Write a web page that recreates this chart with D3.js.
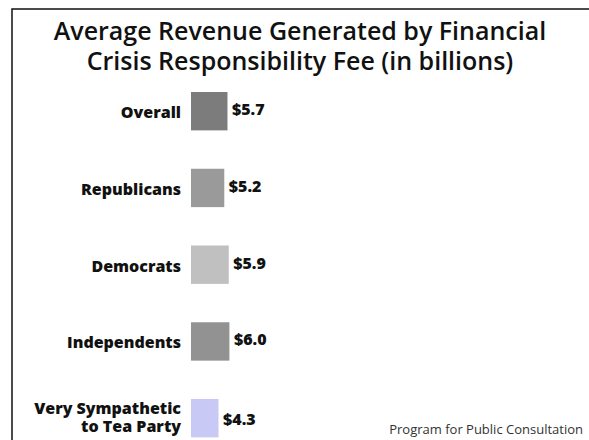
<!DOCTYPE html>
<html><head><meta charset="utf-8">
<script src="https://cdn.jsdelivr.net/npm/d3@7"></script>
<style>body{margin:0;background:#fff}svg{display:block}</style>
</head><body>
<script>
const categories = ["Overall", "Republicans", "Democrats", "Independents", "Very Sympathetic\nto Tea Party"];
const values = [5.7, 5.2, 5.9, 6.0, 4.3];
const valueLabels = ["$5.7", "$5.2", "$5.9", "$6.0", "$4.3"];
const colors = ["#7c7c7c", "#9a9a9a", "#c0c0c0", "#929292", "#c9c9f6"];
const title = ["Average Revenue Generated by Financial", "Crisis Responsibility Fee (in billions)"];
const source = "Program for Public Consultation";

const W = 589, H = 440;
const svg = d3.select("body").append("svg").attr("width", W).attr("height", H);

// frame
svg.append("path").attr("d", `M12,${H} L12,9 L${W},9`).attr("fill", "none").attr("stroke", "#111").attr("stroke-width", 1.5);

const x = d3.scaleLinear().domain([0, 10]).range([191, 191 + 64]);
const yb = d3.scaleBand().domain(categories).range([92, 92 + 76.75 * 4.5]).paddingInner(0.5).paddingOuter(0);

const font = "'Open Sans', sans-serif";

svg.append("g").selectAll("text").data(title).join("text")
  .attr("x", 300).attr("y", (d, i) => 40 + i * 29.5)
  .attr("text-anchor", "middle").attr("font-family", font).attr("font-weight", 600)
  .attr("font-size", 25).attr("fill", "#111").text(d => d);

const g = svg.append("g");
g.selectAll("rect").data(categories).join("rect")
  .attr("x", x(0)).attr("y", d => yb(d))
  .attr("width", (d, i) => x(values[i]) - x(0)).attr("height", yb.bandwidth())
  .attr("fill", (d, i) => colors[i]);

g.selectAll("text.cat").data(categories).join("text").attr("class", "cat")
  .attr("text-anchor", "end").attr("font-family", font).attr("font-weight", 800)
  .attr("font-size", 16).attr("fill", "#111")
  .each(function(d) {
    const lines = d.split("\n");
    const cy = yb(d) + yb.bandwidth() / 2;
    const t = d3.select(this);
    lines.forEach((l, j) => {
      t.append("tspan").attr("x", 181)
        .attr("y", lines.length === 1 ? cy + 7 : cy - 4.5 + j * 18.5).text(l);
    });
  });

g.selectAll("text.val").data(categories).join("text").attr("class", "val")
  .attr("x", (d, i) => x(values[i]) + 4.5)
  .attr("y", (d, i) => yb(d) + yb.bandwidth() / 2 + (i === 4 ? 7 : 4))
  .attr("font-family", font).attr("font-weight", 800)
  .attr("font-size", 16).attr("fill", "#111")
  .text((d, i) => valueLabels[i]);

svg.append("text").attr("x", 583).attr("y", 434).attr("text-anchor", "end")
  .attr("font-family", font).attr("font-size", 13).attr("fill", "#333").text(source);
</script>
</body></html>
